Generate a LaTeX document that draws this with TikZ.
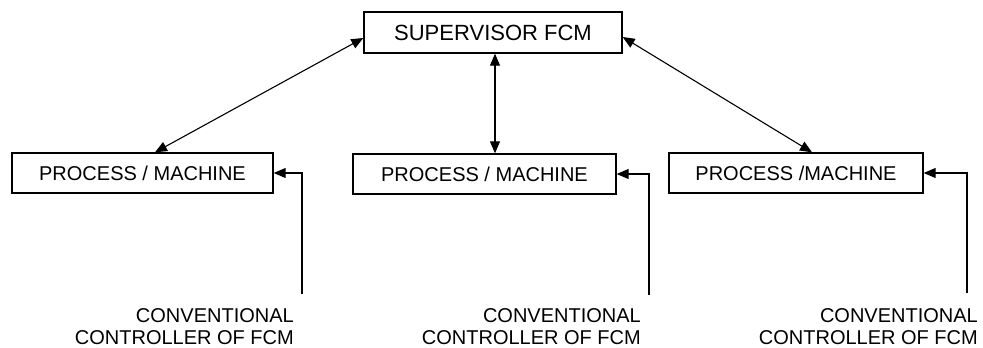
\documentclass[tikz,border=0pt]{standalone}
\usepackage{fontspec}
\setmainfont{Liberation Sans}
\usetikzlibrary{arrows.meta}

\begin{document}
\begin{tikzpicture}[x=1pt,y=-1pt,
    box/.style={draw=black, line width=1.4pt, minimum height=40pt, inner sep=0pt,
      font=\fontsize{20}{24}\selectfont},
    link/.style={line width=1.1pt, {Triangle[length=12pt,width=10pt]}-{Triangle[length=12pt,width=10pt]}},
    feed/.style={line width=1.1pt, -{Triangle[length=12pt,width=10pt]}},
    ctrl/.style={align=right, anchor=north east, inner sep=0pt,
      font=\fontsize{20}{21.5}\selectfont}]
    \useasboundingbox (0,0) rectangle (983,348);
    \node[box, minimum width=258pt, minimum height=41pt, font=\fontsize{22}{26}\selectfont]
      (sup) at (493,32.5) {SUPERVISOR FCM};
    \node[box, minimum width=261pt] (pm1) at (142.5,173) {PROCESS / MACHINE};
    \node[box, minimum width=263pt] (pm2) at (484.5,174) {PROCESS / MACHINE};
    \node[box, minimum width=254pt] (pm3) at (796,173) {PROCESS /MACHINE};
    \draw[link] ([yshift=-5.5pt]sup.west) -- ([xshift=12.5pt]pm1.north);
    \draw[link] ([xshift=2pt]sup.south) -- ([xshift=10.5pt]pm2.north);
    \draw[link] ([yshift=-4.5pt]sup.east) -- ([xshift=16pt]pm3.north);
    \node[ctrl] (ctl1) at (294,308.5) {CONVENTIONAL\\CONTROLLER OF FCM};
    \node[ctrl] (ctl2) at (641,308.5) {CONVENTIONAL\\CONTROLLER OF FCM};
    \node[ctrl] (ctl3) at (978,308.5) {CONVENTIONAL\\CONTROLLER OF FCM};
    \coordinate (c1) at (302,294);
    \coordinate (c2) at (649,295);
    \coordinate (c3) at (967,293);
    \draw[feed] (c1) |- (pm1.east);
    \draw[feed] (c2) |- (pm2.east);
    \draw[feed] (c3) |- (pm3.east);
  \end{tikzpicture}
\end{document}
